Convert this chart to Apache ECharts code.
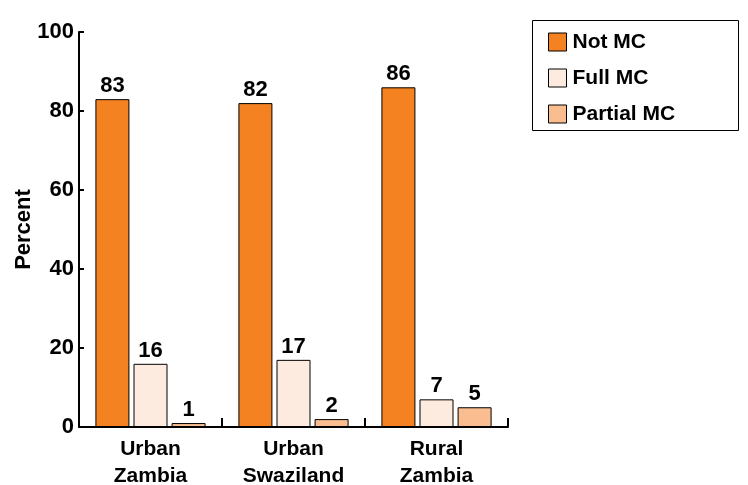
<!DOCTYPE html>
<html><head><meta charset="utf-8">
<script src="https://cdn.jsdelivr.net/npm/echarts@6/dist/echarts.min.js"></script>
<style>html,body{margin:0;padding:0;background:#fff}#c{width:748px;height:485px}</style>
</head><body><div id="c"></div>
<script>
const categories = ['Urban\nZambia', 'Urban\nSwaziland', 'Rural\nZambia'];
const seriesNames = ['Not MC', 'Full MC', 'Partial MC'];
const notMC = [83, 82, 86];
const fullMC = [16, 17, 7];
const partialMC = [1, 2, 5];
const yTicks = [0, 20, 40, 60, 80, 100];
const colors = ['#F58220', '#FDEBE0', '#F9BD8F'];

const FONT = 'Arial, "Liberation Sans", sans-serif';
const chart = echarts.init(document.getElementById('c'));
const mk = (name, data, color) => ({
  name, type: 'bar', data, barWidth: 34, barGap: '12%',
  itemStyle: { color, borderColor: '#000', borderWidth: 1 },
  label: { show: true, position: 'top', distance: 2, color: '#000',
    fontFamily: FONT, fontWeight: 'bold', fontSize: 22 }
});
chart.setOption({
  animation: false,
  grid: { left: 79, right: 240, top: 32, bottom: 58, containLabel: false, outerBoundsMode: 'none' },
  legend: {
    orient: 'vertical', left: 543, top: 26, itemWidth: 18, itemHeight: 18, itemGap: 14,
    icon: 'rect',
    data: seriesNames,
    textStyle: { fontFamily: FONT, fontWeight: 'bold', fontSize: 21, lineHeight: 22, color: '#000', padding: [0, 0, 0, 1] },
    itemStyle: { borderColor: '#000', borderWidth: 1 }
  },
  graphic: [{ type: 'rect', shape: { x: 532.5, y: 20.5, width: 206, height: 110 },
    style: { fill: 'none', stroke: '#000', lineWidth: 1 } }],
  xAxis: {
    type: 'category', data: categories,
    axisLine: { lineStyle: { color: '#000', width: 2 } },
    axisTick: { show: true, inside: true, length: 9, alignWithLabel: false, lineStyle: { color: '#000', width: 2 } },
    axisLabel: { color: '#000', fontFamily: FONT, fontWeight: 'bold', fontSize: 21, lineHeight: 27, margin: 9 }
  },
  yAxis: {
    type: 'value', min: 0, max: 100, interval: 20,
    name: 'Percent', nameLocation: 'middle', nameGap: 44, nameMoveOverlap: false,
    nameTextStyle: { color: '#000', fontFamily: FONT, fontWeight: 'bold', fontSize: 22 },
    axisLine: { show: true, lineStyle: { color: '#000', width: 2 } },
    axisTick: { show: true, inside: true, length: 5, lineStyle: { color: '#000', width: 2 } },
    axisLabel: { color: '#000', fontFamily: FONT, fontWeight: 'bold', fontSize: 22, margin: 5,
      formatter: v => yTicks.includes(v) ? String(v) : '' },
    splitLine: { show: false }
  },
  series: [mk(seriesNames[0], notMC, colors[0]), mk(seriesNames[1], fullMC, colors[1]), mk(seriesNames[2], partialMC, colors[2])]
});
</script></body></html>
